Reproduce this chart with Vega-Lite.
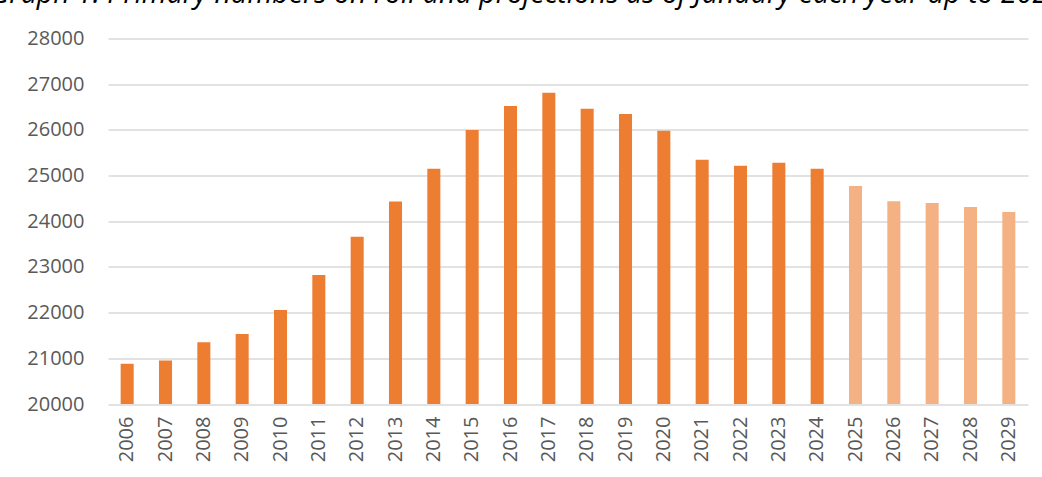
{
  "$schema": "https://vega.github.io/schema/vega-lite/v6.json",
  "autosize": {"type": "none"},
  "width": 920,
  "height": 365.5,
  "padding": {"left": 108, "top": 38.5, "right": 14, "bottom": 73},
  "background": "white",
  "title": {
    "text": "Graph 1: Primary numbers on roll and projections as of January each year up to 2029",
    "anchor": "start",
    "frame": "group",
    "font": "Open Sans",
    "fontStyle": "italic",
    "fontWeight": "normal",
    "fontSize": 28.5,
    "color": "#000000",
    "dx": -118,
    "dy": -16
  },
  "config": {
    "view": {"stroke": null},
    "font": "Open Sans"
  },
  "data": {
    "values": [
      {"year": "2006", "pupils": 20880, "type": "Actual"},
      {"year": "2007", "pupils": 20950, "type": "Actual"},
      {"year": "2008", "pupils": 21350, "type": "Actual"},
      {"year": "2009", "pupils": 21530, "type": "Actual"},
      {"year": "2010", "pupils": 22060, "type": "Actual"},
      {"year": "2011", "pupils": 22825, "type": "Actual"},
      {"year": "2012", "pupils": 23660, "type": "Actual"},
      {"year": "2013", "pupils": 24430, "type": "Actual"},
      {"year": "2014", "pupils": 25150, "type": "Actual"},
      {"year": "2015", "pupils": 26000, "type": "Actual"},
      {"year": "2016", "pupils": 26525, "type": "Actual"},
      {"year": "2017", "pupils": 26810, "type": "Actual"},
      {"year": "2018", "pupils": 26460, "type": "Actual"},
      {"year": "2019", "pupils": 26350, "type": "Actual"},
      {"year": "2020", "pupils": 25980, "type": "Actual"},
      {"year": "2021", "pupils": 25345, "type": "Actual"},
      {"year": "2022", "pupils": 25215, "type": "Actual"},
      {"year": "2023", "pupils": 25280, "type": "Actual"},
      {"year": "2024", "pupils": 25150, "type": "Actual"},
      {"year": "2025", "pupils": 24770, "type": "Projection"},
      {"year": "2026", "pupils": 24440, "type": "Projection"},
      {"year": "2027", "pupils": 24400, "type": "Projection"},
      {"year": "2028", "pupils": 24310, "type": "Projection"},
      {"year": "2029", "pupils": 24200, "type": "Projection"}
    ]
  },
  "mark": {"type": "bar", "clip": true},
  "encoding": {
    "x": {
      "field": "year",
      "type": "ordinal",
      "title": null,
      "scale": {"paddingInner": 0.66, "paddingOuter": 0.33},
      "axis": {
        "labelAngle": -90,
        "labelPadding": 12,
        "ticks": false,
        "domain": false,
        "labelFontSize": 20,
        "labelColor": "#595959",
        "labelFont": "Open Sans"
      }
    },
    "y": {
      "field": "pupils",
      "type": "quantitative",
      "title": null,
      "scale": {"domain": [20000, 28000], "zero": false, "nice": false},
      "axis": {
        "values": [20000, 21000, 22000, 23000, 24000, 25000, 26000, 27000, 28000],
        "format": "d",
        "grid": true,
        "gridColor": "#D9D9D9",
        "gridWidth": 1.5,
        "domain": false,
        "ticks": false,
        "labelPadding": 24,
        "labelFontSize": 20,
        "labelColor": "#595959",
        "labelFont": "Open Sans"
      }
    },
    "color": {
      "field": "type",
      "type": "nominal",
      "legend": null,
      "scale": {"domain": ["Actual", "Projection"], "range": ["#ED7D31", "#F4B183"]}
    }
  }
}
